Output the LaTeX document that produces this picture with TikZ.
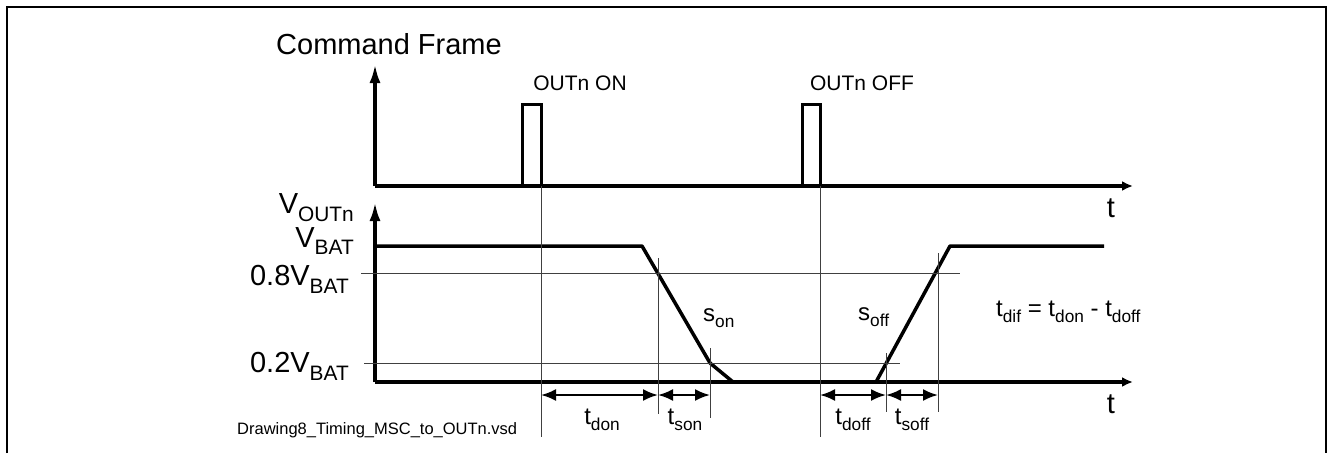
\documentclass[tikz,border=0pt]{standalone}
\usepackage{fontspec}
\setmainfont{Liberation Sans}
\usepackage{graphicx}
\usetikzlibrary{arrows.meta, positioning}
\tikzset{
        every node/.style={inner sep=0pt}, % labels are placed by hand
        frame/.style={line width=1.4pt}, % outline of the sheet
        sig/.style={line width=3.5pt, line join=round}, % bold signal lines
        pulse/.style={line width=3pt}, % command pulses
        aux/.style={line width=0.9pt, black!75}, % thin help lines
        dim/.style={line width=2.2pt, {Latex[length=15pt,width=12pt]}-{Latex[length=15pt,width=12pt]}}, % time spans
        upaxis/.style={-{Latex[length=19pt,width=11pt]}},
        taxis/.style={-{Latex[length=11pt,width=10pt]}},
        big/.style={font=\fontsize{29}{32}\selectfont},
        mid/.style={font=\fontsize{24}{28}\selectfont},
        lbl/.style={font=\fontsize{21}{24}\selectfont},
        note/.style={font=\fontsize{16.5}{19}\selectfont},
    }
\newcommand{\lo}[1]{\raisebox{-0.27em}{\scalebox{0.72}{#1}}}

\begin{document}
\begin{tikzpicture}[x=1pt, y=-1pt]
    \useasboundingbox (0,0) rectangle (1332,453);
    \draw[frame] (7,453) -- (7,7) -- (1326,7) -- (1326,453);

    % command frame
    \coordinate (c0) at (375,186);
    \coordinate (ctop) at (375,64);
    \coordinate (cend) at (1133,186);
    \coordinate (on) at (541,186);
    \coordinate (off) at (820,186);
    \draw[sig, upaxis] (c0) -- (ctop);
    \draw[sig, taxis] (c0) -- (cend);
    \draw[pulse] (522,186) |- (541,104) -- (on);
    \draw[pulse] (802,186) |- (820,104) -- (off);
    \node[big] (cmd) at (389,44) {Command Frame};
    \node[lbl] (onlbl) at (580,83) {OUTn ON};
    \node[lbl] (offlbl) at (862,83) {OUTn OFF};
    \node[big] (t1) at (1111,208) {t};

    % output voltage
    \coordinate (v0) at (375,382);
    \coordinate (vtop) at (375,202);
    \coordinate (vend) at (1133,382);
    \draw[sig, upaxis] (v0) -- (vtop);
    \draw[sig, taxis] (v0) -- (vend);
    \draw[sig] (375,246) -- (642,246) -- (710,363) -- (733,382) -- (876,382) -- (950,246) -- (1104,246);
    \node[big, anchor=east] (vout) at (354,208) {V\lo{OUTn}};
    \node[big, anchor=east] (vbat) at (354,241) {V\lo{BAT}};
    \node[big, anchor=east] (v08) at (349,279) {0.8V\lo{BAT}};
    \node[big, anchor=east] (v02) at (349,366) {0.2V\lo{BAT}};
    \node[big] (t2) at (1111,404) {t};

    % levels and marks
    \draw[aux] (361,273) -- (960,273);
    \draw[aux] (364,363) -- (900,363);
    \draw[aux] (on) -- (541,437);
    \draw[aux] (off) -- (820,437);
    \draw[aux] (658,258) -- (658,414);
    \draw[aux] (710,348) -- (710,418);
    \draw[aux] (886,353) -- (886,412);
    \draw[aux] (938,253) -- (938,412);

    % time spans
    \coordinate (d1) at (541,395);
    \coordinate (d2) at (658,395);
    \coordinate (d3) at (710,395);
    \coordinate (d4) at (820,395);
    \coordinate (d5) at (886,395);
    \coordinate (d6) at (938,395);
    \draw[dim] (d1) -- (d2);
    \draw[dim] (d2) -- (d3);
    \draw[dim] (d4) -- (d5);
    \draw[dim] (d5) -- (d6);
    \node[mid] (tdon) at (602,420) {t\lo{don}};
    \node[mid] (tson) at (685,420) {t\lo{son}};
    \node[mid] (tdoff) at (853,420) {t\lo{doff}};
    \node[mid] (tsoff) at (912,420) {t\lo{soff}};
    \node[mid, anchor=west] (son) at (703,318) {s\lo{on}};
    \node[mid, anchor=west] (soff) at (858,317) {s\lo{off}};
    \node[mid, anchor=west] (tdif) at (996,312) {t\lo{dif} = t\lo{don} - t\lo{doff}};

    \node[note, anchor=west] (file) at (237,430) {Drawing8\_Timing\_MSC\_to\_OUTn.vsd};
\end{tikzpicture}
\end{document}
